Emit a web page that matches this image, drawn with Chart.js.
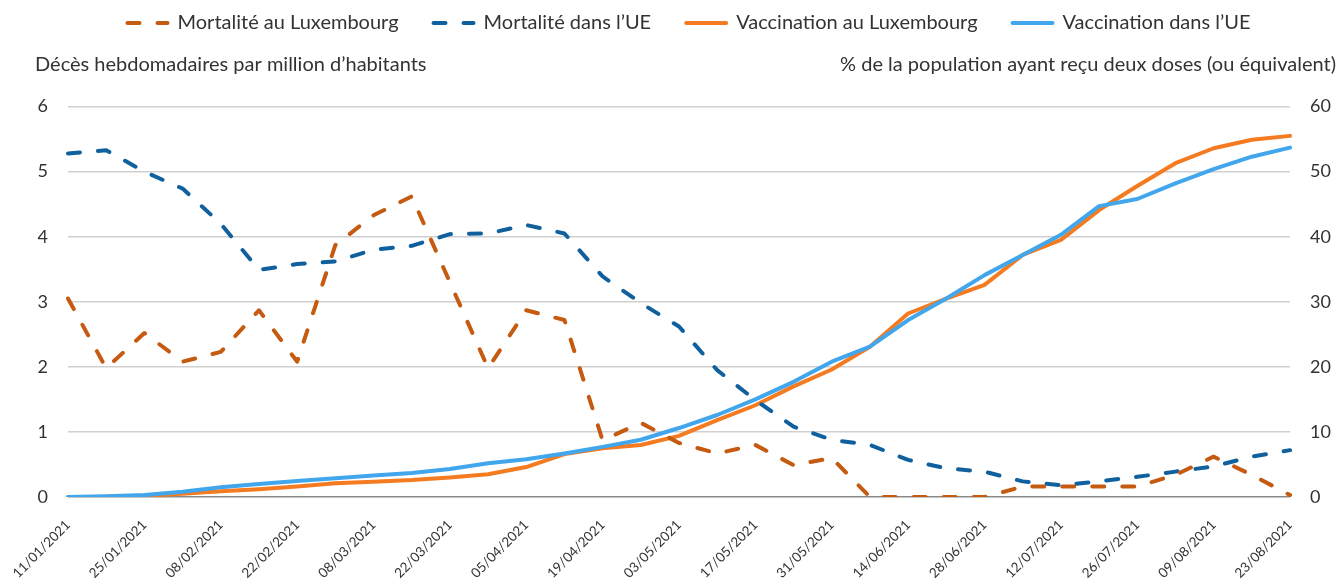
<!DOCTYPE html>
<html lang="fr">
<head>
<meta charset="utf-8">
<script src="https://cdn.jsdelivr.net/npm/chart.js@4.4.0/dist/chart.umd.min.js"></script>
<style>
  html, body { margin: 0; padding: 0; background: #fff; }
  #wrap { width: 1338px; height: 586px; position: relative; }
</style>
</head>
<body>
<div id="wrap"><canvas id="chart" width="1338" height="586"></canvas></div>
<script>
// weekly dates (Monday)
const weeks = ['11/01/2021','18/01/2021','25/01/2021','01/02/2021','08/02/2021','15/02/2021','22/02/2021',
  '01/03/2021','08/03/2021','15/03/2021','22/03/2021','29/03/2021','05/04/2021','12/04/2021','19/04/2021',
  '26/04/2021','03/05/2021','10/05/2021','17/05/2021','24/05/2021','31/05/2021','07/06/2021','14/06/2021',
  '21/06/2021','28/06/2021','05/07/2021','12/07/2021','19/07/2021','26/07/2021','02/08/2021','09/08/2021',
  '16/08/2021','23/08/2021'];

// weekly deaths per million (left axis)
const mortLux = [3.05, 1.98, 2.52, 2.08, 2.23, 2.87, 2.08, 3.87, 4.33, 4.62, 3.3, 1.98, 2.87, 2.72, 0.87,
  1.14, 0.83, 0.67, 0.80, 0.49, 0.6, 0, 0, 0, 0, 0.16, 0.16, 0.16, 0.16, 0.34, 0.62, 0.34, 0.03];
const mortUE = [5.28, 5.33, 5.0, 4.74, 4.2, 3.49, 3.58, 3.62, 3.80, 3.86, 4.04, 4.05, 4.18, 4.05, 3.39,
  2.98, 2.62, 1.95, 1.49, 1.08, 0.88, 0.80, 0.57, 0.44, 0.39, 0.24, 0.18, 0.24, 0.31, 0.39, 0.47, 0.62, 0.72];

// % fully vaccinated (right axis)
const vaccLux = [0, 0, 0.2, 0.5, 0.9, 1.2, 1.6, 2.1, 2.35, 2.6, 3.0, 3.5, 4.6, 6.6, 7.5, 8.0, 9.4, 11.8,
  14.1, 17.0, 19.6, 23.1, 28.2, 30.5, 32.6, 37.2, 39.5, 44.1, 47.8, 51.3, 53.6, 54.9, 55.5];
const vaccUE = [0, 0.1, 0.3, 0.8, 1.5, 2.0, 2.46, 2.87, 3.3, 3.7, 4.3, 5.2, 5.8, 6.7, 7.7, 8.8, 10.6, 12.6,
  15.0, 17.7, 20.8, 23.1, 27.2, 30.5, 34.1, 37.2, 40.3, 44.7, 45.8, 48.2, 50.4, 52.3, 53.7];

const leftTitle = 'Décès hebdomadaires par million d\u2019habitants';
const rightTitle = '% de la population ayant reçu deux doses (ou équivalent)';

const FONT = 'Lato, "Liberation Sans", sans-serif';
const TXT = '#333333';

// draws both axis titles on one row above the plot, nudges legend a bit right
const axisTitles = {
  id: 'axisTitles',
  afterLayout(chart) {
    chart.legend.left += 40;
  },
  afterDraw(chart) {
    const ctx = chart.ctx;
    ctx.save();
    ctx.font = '20px ' + FONT;
    ctx.fillStyle = TXT;
    ctx.textBaseline = 'middle';
    ctx.textAlign = 'left';
    ctx.fillText(leftTitle, 35, 65);
    ctx.textAlign = 'right';
    ctx.fillText(rightTitle, 1336, 65);
    ctx.restore();
  }
};

const dashed = [12, 18];

new Chart(document.getElementById('chart'), {
  type: 'line',
  data: {
    labels: weeks,
    datasets: [
      { label: 'Mortalité au Luxembourg', data: mortLux, yAxisID: 'y', borderColor: '#C55A11',
        backgroundColor: '#C55A11', borderDash: dashed, order: 0 },
      { label: 'Mortalité dans l\u2019UE', data: mortUE, yAxisID: 'y', borderColor: '#10609E',
        backgroundColor: '#10609E', borderDash: dashed, order: 1 },
      { label: 'Vaccination au Luxembourg', data: vaccLux, yAxisID: 'y1', borderColor: '#F47B20',
        backgroundColor: '#F47B20', order: 3 },
      { label: 'Vaccination dans l\u2019UE', data: vaccUE, yAxisID: 'y1', borderColor: '#42A6EC',
        backgroundColor: '#42A6EC', order: 2 }
    ]
  },
  options: {
    responsive: false,
    animation: false,
    devicePixelRatio: 1,
    layout: { padding: { top: -22, left: 0, right: 0, bottom: 0 } },
    elements: {
      point: { radius: 0 },
      line: { borderWidth: 4, tension: 0, borderCapStyle: 'round', borderJoinStyle: 'round', fill: false }
    },
    plugins: {
      legend: {
        position: 'top',
        weight: 3000,
        labels: {
          usePointStyle: true,
          pointStyle: 'line',
          pointStyleWidth: 40,
          boxHeight: 18,
          padding: 35,
          color: TXT,
          font: { family: FONT, size: 20 },
          sort: (a, b) => a.datasetIndex - b.datasetIndex,
          generateLabels: (chart) => {
            const items = Chart.defaults.plugins.legend.labels.generateLabels(chart);
            items.forEach((it) => {
              const ds = chart.data.datasets[it.datasetIndex];
              it.lineWidth = 4;
              it.lineDash = ds.borderDash || [];
              it.lineCap = 'round';
              it.strokeStyle = ds.borderColor;
            });
            return items;
          }
        }
      },
      title: { display: true, text: '', font: { size: 18 }, padding: { top: 0, bottom: 42 } },
      tooltip: { enabled: false }
    },
    scales: {
      x: {
        grid: { display: false },
        border: { display: false },
        ticks: {
          autoSkip: false, maxRotation: 45, minRotation: 45, padding: 12,
          color: TXT, font: { family: FONT, size: 13.5 },
          callback: function (val, i) { return i % 2 === 0 ? this.getLabelForValue(val) : ''; }
        },
        afterFit: (s) => { s.height = 89; s.paddingLeft = 0; s.paddingRight = 0; }
      },
      y: {
        position: 'left', min: 0, max: 6,
        border: { display: false },
        grid: {
          drawTicks: false,
          lineWidth: 1.5,
          color: (c) => c.index === 0 ? '#8a8a8a' : '#d0d0d0'
        },
        ticks: { stepSize: 1, padding: 20, color: TXT, font: { family: FONT, size: 18 } },
        afterFit: (s) => { s.width = 68; }
      },
      y1: {
        position: 'right', min: 0, max: 60,
        border: { display: false },
        grid: { display: false, drawTicks: false },
        ticks: { stepSize: 10, padding: 20, color: TXT, font: { family: FONT, size: 18 } },
        afterFit: (s) => { s.width = 48; }
      }
    }
  },
  plugins: [axisTitles]
});
</script>
</body>
</html>
